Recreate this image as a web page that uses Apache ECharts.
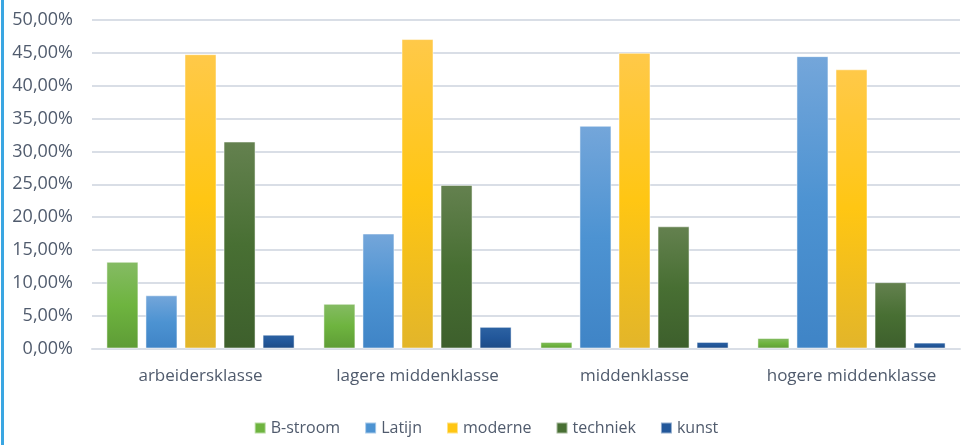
<!DOCTYPE html>
<html><head><meta charset="utf-8">
<script src="https://cdn.jsdelivr.net/npm/echarts@6/dist/echarts.min.js"></script>
<style>html,body{margin:0;padding:0;background:#fff}#c{width:972px;height:445px}</style>
</head><body><div id="c"></div>
<script>
const categories = ['arbeidersklasse', 'lagere middenklasse', 'middenklasse', 'hogere middenklasse'];
const seriesNames = ['B-stroom', 'Latijn', 'moderne', 'techniek', 'kunst'];
const bStroom = [13.2, 6.8, 1.0, 1.6];
const latijn = [8.1, 17.5, 33.9, 44.5];
const moderne = [44.8, 47.1, 45.0, 42.5];
const techniek = [31.5, 24.9, 18.6, 10.1];
const kunst = [2.1, 3.3, 1.0, 0.9];
const yTicks = { min: 0, max: 50, interval: 5 };

const values = [bStroom, latijn, moderne, techniek, kunst];
const grads = [
  ['#85bb64', '#6eb43f', '#5e9c36'],
  ['#74a6da', '#4d93d2', '#3f84c6'],
  ['#ffc949', '#ffc613', '#e2b52a'],
  ['#64814f', '#486f33', '#3d5f2c'],
  ['#2d63a3', '#22579a', '#1d4b86']
];
const legendColors = ['#6eb43f', '#4d93d2', '#ffc613', '#486f33', '#22579a'];
const textColor = '#505b6d';

const chart = echarts.init(document.getElementById('c'), null, { renderer: 'canvas' });
chart.setOption({
  animation: false,
  backgroundColor: '#ffffff',
  graphic: [{ type: 'rect', left: 1, top: 0, shape: { width: 3, height: 445 }, style: { fill: '#3aa6e2' } }],
  grid: { left: 92, right: 12, top: 20, bottom: 96.5 },
  legend: {
    top: 415, left: 'center', itemWidth: 11, itemHeight: 11, itemGap: 24,
    icon: 'rect',
    textStyle: { color: textColor, fontSize: 16, fontFamily: 'Open Sans' },
    data: seriesNames.map((n, i) => ({ name: n, itemStyle: { color: legendColors[i] } }))
  },
  xAxis: {
    type: 'category', data: categories,
    axisLine: { lineStyle: { color: '#d9dee6', width: 2 } },
    axisTick: { show: false },
    axisLabel: { color: textColor, fontSize: 17, fontFamily: 'Open Sans', margin: 19, interval: 0 }
  },
  yAxis: {
    type: 'value', min: yTicks.min, max: yTicks.max, interval: yTicks.interval,
    axisLine: { show: false }, axisTick: { show: false },
    splitLine: { lineStyle: { color: '#d9dee6', width: 2 } },
    axisLabel: { color: textColor, fontSize: 18, fontFamily: 'Open Sans', margin: 19,
      formatter: v => v.toFixed(2).replace('.', ',') + '%' }
  },
  series: seriesNames.map((n, i) => ({
    name: n, type: 'bar', data: values[i], barWidth: 32, barGap: '22%',
    itemStyle: {
      borderColor: 'rgba(255,255,255,0.5)', borderWidth: 1,
      color: new echarts.graphic.LinearGradient(0, 0, 0, 1, [
        { offset: 0, color: grads[i][0] }, { offset: 0.5, color: grads[i][1] }, { offset: 1, color: grads[i][2] }
      ])
    }
  }))
});
</script></body></html>
